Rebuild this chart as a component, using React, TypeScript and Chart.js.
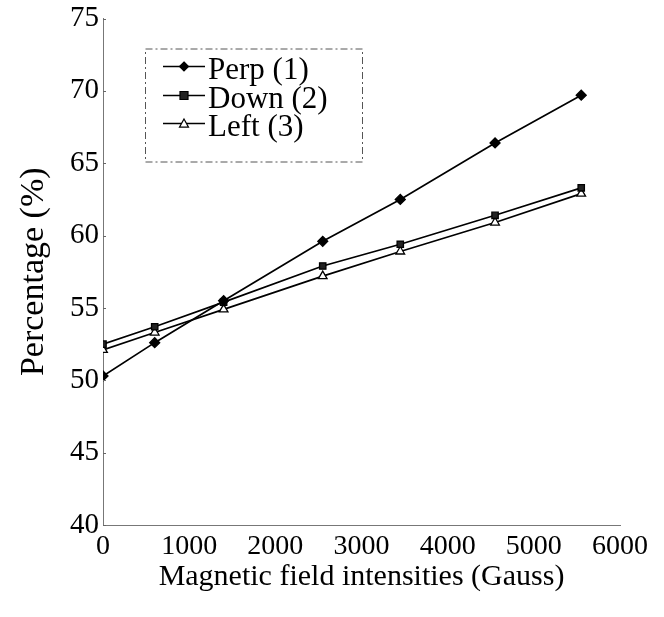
import React, { useEffect, useRef } from 'react';
import { Chart, registerables } from 'chart.js';

Chart.register(...registerables);

const fieldGauss = [0, 600, 1400, 2550, 3450, 4550, 5550];
const perpValues = [50.3, 52.6, 55.5, 59.6, 62.5, 66.4, 69.7];
const downValues = [52.5, 53.7, 55.4, 57.9, 59.4, 61.4, 63.3];
const leftValues = [52.1, 53.3, 54.9, 57.2, 58.9, 60.9, 62.9];
const seriesNames = ['Perp (1)', 'Down (2)', 'Left (3)'];
const yTickValues = [40, 45, 50, 55, 60, 65, 70, 75];
const xTickValues = [0, 1000, 2000, 3000, 4000, 5000, 6000];
const xTitle = 'Magnetic field intensities (Gauss)';
const yTitle = 'Percentage (%)';

const SERIF = "'Liberation Serif', 'DejaVu Serif', 'Times New Roman', serif";

type MarkerKind = 'diamond' | 'square' | 'triangle';

function drawMarker(ctx: CanvasRenderingContext2D, kind: MarkerKind, x: number, y: number) {
  ctx.save();
  ctx.lineWidth = 1.2;
  ctx.strokeStyle = '#000';
  ctx.beginPath();
  if (kind === 'diamond') {
    const r = 4.5;
    ctx.moveTo(x, y - r);
    ctx.lineTo(x + r, y);
    ctx.lineTo(x, y + r);
    ctx.lineTo(x - r, y);
    ctx.closePath();
    ctx.fillStyle = '#000';
    ctx.fill();
    ctx.stroke();
  } else if (kind === 'square') {
    const r = 4;
    ctx.rect(x - r, y - r, 2 * r, 2 * r);
    ctx.fillStyle = '#222';
    ctx.fill();
    ctx.stroke();
  } else {
    const r = 4.5;
    ctx.moveTo(x, y - r);
    ctx.lineTo(x + r, y + r * 0.8);
    ctx.lineTo(x - r, y + r * 0.8);
    ctx.closePath();
    ctx.fillStyle = '#fff';
    ctx.fill();
    ctx.stroke();
  }
  ctx.restore();
}

const markerKinds: MarkerKind[] = ['diamond', 'square', 'triangle'];

const legendPlugin = {
  id: 'insideLegend',
  afterDraw(chart: any) {
    const { ctx, chartArea } = chart;
    const bx = chartArea.left + 42;
    const by = chartArea.top + 30;
    const bw = 217;
    const bh = 113;
    ctx.save();
    ctx.strokeStyle = '#555';
    ctx.lineWidth = 1;
    ctx.setLineDash([7, 3, 2, 3]);
    ctx.strokeRect(bx + 0.5, by + 0.5, bw, bh);
    ctx.setLineDash([]);
    const rowY = [by + 18, by + 47, by + 75];
    seriesNames.forEach((name, i) => {
      const y = rowY[i];
      ctx.strokeStyle = '#000';
      ctx.lineWidth = 1.5;
      ctx.beginPath();
      ctx.moveTo(bx + 18, y);
      ctx.lineTo(bx + 60, y);
      ctx.stroke();
      drawMarker(ctx, markerKinds[i], bx + 39, y);
      ctx.fillStyle = '#000';
      ctx.font = `31px ${SERIF}`;
      ctx.textBaseline = 'middle';
      ctx.textAlign = 'left';
      ctx.fillText(name, bx + 63, y + 4);
    });
    ctx.restore();
  },
};

const innerTicksPlugin = {
  id: 'innerTicks',
  afterDraw(chart: any) {
    const { ctx, chartArea } = chart;
    const yScale = chart.scales.y;
    ctx.save();
    ctx.strokeStyle = '#666';
    ctx.lineWidth = 1;
    yTickValues.forEach((v) => {
      const py = Math.round(yScale.getPixelForValue(v)) + 0.5;
      ctx.beginPath();
      ctx.moveTo(chartArea.left, py);
      ctx.lineTo(chartArea.left + 3, py);
      ctx.stroke();
    });
    ctx.restore();
  },
};

function pointStyleFor(kind: MarkerKind) {
  if (kind === 'diamond') return 'rectRot';
  if (kind === 'square') return 'rect';
  return 'triangle';
}

export default function App() {
  const canvasRef = useRef<HTMLCanvasElement | null>(null);

  useEffect(() => {
    document.body.style.margin = '0';
    const canvas = canvasRef.current;
    if (!canvas) return;
    const makeData = (vals: number[]) => vals.map((v, i) => ({ x: fieldGauss[i], y: v }));
    const seriesVals = [perpValues, downValues, leftValues];
    const chart = new Chart(canvas, {
      type: 'scatter',
      data: {
        datasets: seriesVals.map((vals, i) => ({
          label: seriesNames[i],
          data: makeData(vals),
          showLine: true,
          borderColor: '#000',
          borderWidth: 1.7,
          pointStyle: pointStyleFor(markerKinds[i]) as any,
          pointRadius: i === 0 ? 5 : i === 1 ? 4.5 : 5,
          pointBackgroundColor: i === 0 ? '#000' : i === 1 ? '#222' : '#fff',
          pointBorderColor: '#000',
          pointBorderWidth: 1.3,
          tension: 0,
        })),
      },
      options: {
        animation: false,
        responsive: false,
        maintainAspectRatio: false,
        layout: { padding: { top: 15, right: 44, left: 0, bottom: 0 } },
        plugins: {
          legend: { display: false },
          tooltip: { enabled: false },
        },
        scales: {
          x: {
            type: 'linear',
            min: 0,
            max: 6000,
            afterFit: (scale: any) => {
              scale.height = 92;
            },
            afterBuildTicks: (scale: any) => {
              scale.ticks = xTickValues.map((v) => ({ value: v }));
            },
            grid: { display: false, drawTicks: false },
            border: { display: true, color: '#777', width: 1, dash: [8, 2, 2, 2] },
            ticks: {
              color: '#000',
              padding: 5,
              maxRotation: 0,
              autoSkip: false,
              font: { family: SERIF, size: 28, lineHeight: 1.2 },
              callback: (v: any) => String(v),
            },
            title: {
              display: true,
              text: xTitle,
              color: '#000',
              font: { family: SERIF, size: 30, lineHeight: 1.2 },
              padding: { top: 0, bottom: 22 },
            },
          },
          y: {
            type: 'linear',
            min: 40,
            max: 75,
            afterFit: (scale: any) => {
              scale.width = 103;
            },
            afterBuildTicks: (scale: any) => {
              scale.ticks = yTickValues.map((v) => ({ value: v }));
            },
            grid: { display: false, drawTicks: false },
            border: { display: true, color: '#777', width: 1, dash: [8, 2, 2, 2] },
            ticks: {
              color: '#000',
              padding: 4,
              autoSkip: false,
              font: { family: SERIF, size: 29, lineHeight: 1 },
              callback: (v: any) => String(v),
            },
            title: {
              display: true,
              text: yTitle,
              color: '#000',
              font: { family: SERIF, size: 34, lineHeight: 1.2 },
              padding: { top: 14, bottom: 0 },
            },
          },
        },
      },
      plugins: [legendPlugin, innerTicksPlugin],
    });
    return () => chart.destroy();
  }, []);

  return (
    <div style={{ width: 664, height: 617, background: '#fff' }}>
      <canvas ref={canvasRef} width={664} height={617} style={{ display: 'block' }} />
    </div>
  );
}
